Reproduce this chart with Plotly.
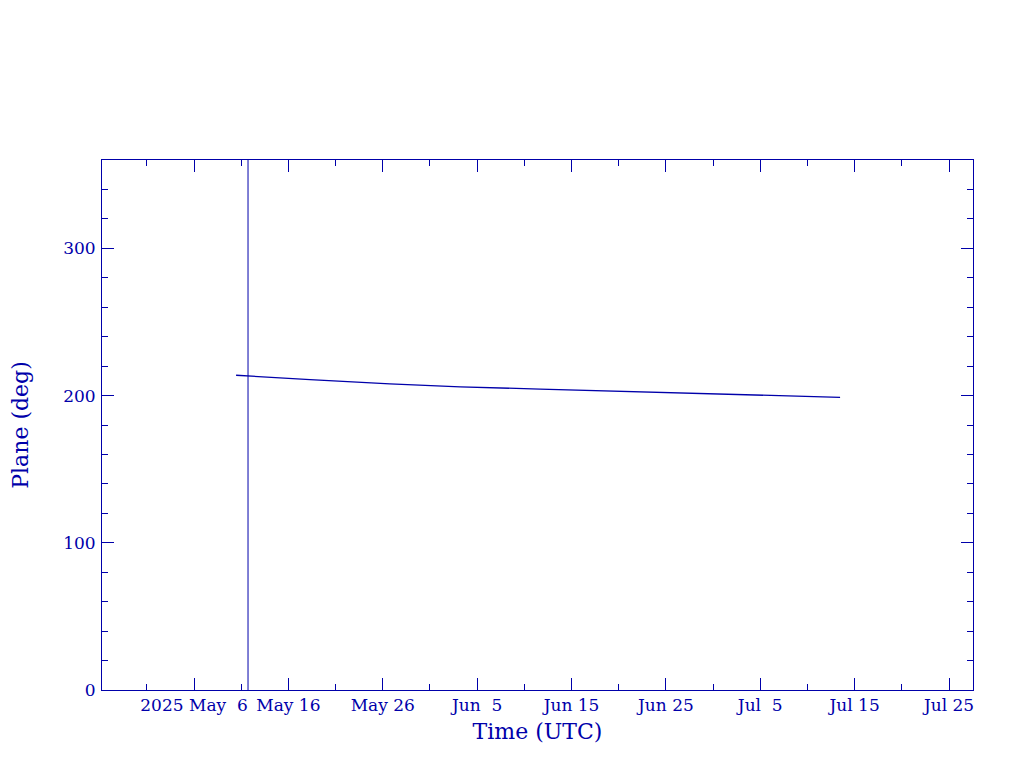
import plotly.graph_objects as go

# Data
times = [
    "2025-05-10 11:00", "2025-05-11 17:00", "2025-05-18 07:00", "2025-05-26 18:00",
    "2025-06-03 05:00", "2025-06-11 16:00", "2025-06-19 02:00", "2025-06-27 14:00",
    "2025-07-05 12:00", "2025-07-13 11:00",
]
plane_deg = [213.8, 213.3, 210.8, 207.9, 205.9, 204.4, 203.1, 201.5, 200.2, 198.8]

now_time = "2025-05-11 17:20"
now_y = [0, 360]

tick_dates = ["2025-05-06", "2025-05-16", "2025-05-26", "2025-06-05", "2025-06-15",
              "2025-06-25", "2025-07-05", "2025-07-15", "2025-07-25"]
tick_labels = ["2025 May\u00a0\u00a06", "May 16", "May 26", "Jun\u00a0\u00a05", "Jun 15",
               "Jun 25", "Jul\u00a0\u00a05", "Jul 15", "Jul 25"]
y_ticks = [0, 100, 200, 300]

x_range = ["2025-04-26 06:00", "2025-07-27 13:00"]
y_range = [0, 360]

COL = "#0000aa"
FONT = "DejaVu Serif"

fig = go.Figure()
fig.add_trace(go.Scatter(x=times, y=plane_deg, mode="lines",
                         line=dict(color=COL, width=1.3), showlegend=False))
fig.add_trace(go.Scatter(x=[now_time, now_time], y=now_y, mode="lines",
                         line=dict(color=COL, width=1), showlegend=False))

axis_common = dict(
    showline=True, linecolor=COL, linewidth=1, mirror="ticks",
    ticks="inside", tickcolor=COL, ticklen=12, tickwidth=1,
    showgrid=False, zeroline=False,
    tickfont=dict(family=FONT, size=17, color=COL),
)

fig.update_layout(
    width=1024, height=768,
    margin=dict(l=94, r=59, t=152, b=86, autoexpand=False),
    paper_bgcolor="white", plot_bgcolor="white",
    xaxis=dict(
        **axis_common,
        type="date", range=x_range,
        tickmode="array", tickvals=tick_dates, ticktext=tick_labels,
        minor=dict(ticks="inside", ticklen=6, tickcolor=COL, tickwidth=1,
                   dtick=5 * 86400000, tick0="2025-05-01", showgrid=False),
        title=dict(text="Time (UTC)", font=dict(family=FONT, size=22, color=COL), standoff=9),
    ),
    yaxis=dict(
        **axis_common,
        range=y_range, tickmode="array", tickvals=y_ticks,
        ticklabelstandoff=2,
        minor=dict(ticks="inside", ticklen=6, tickcolor=COL, tickwidth=1,
                   dtick=20, tick0=0, showgrid=False),
        title=dict(text="Plane (deg)", font=dict(family=FONT, size=22, color=COL), standoff=43),
    ),
)

fig.write_html("out.html")
